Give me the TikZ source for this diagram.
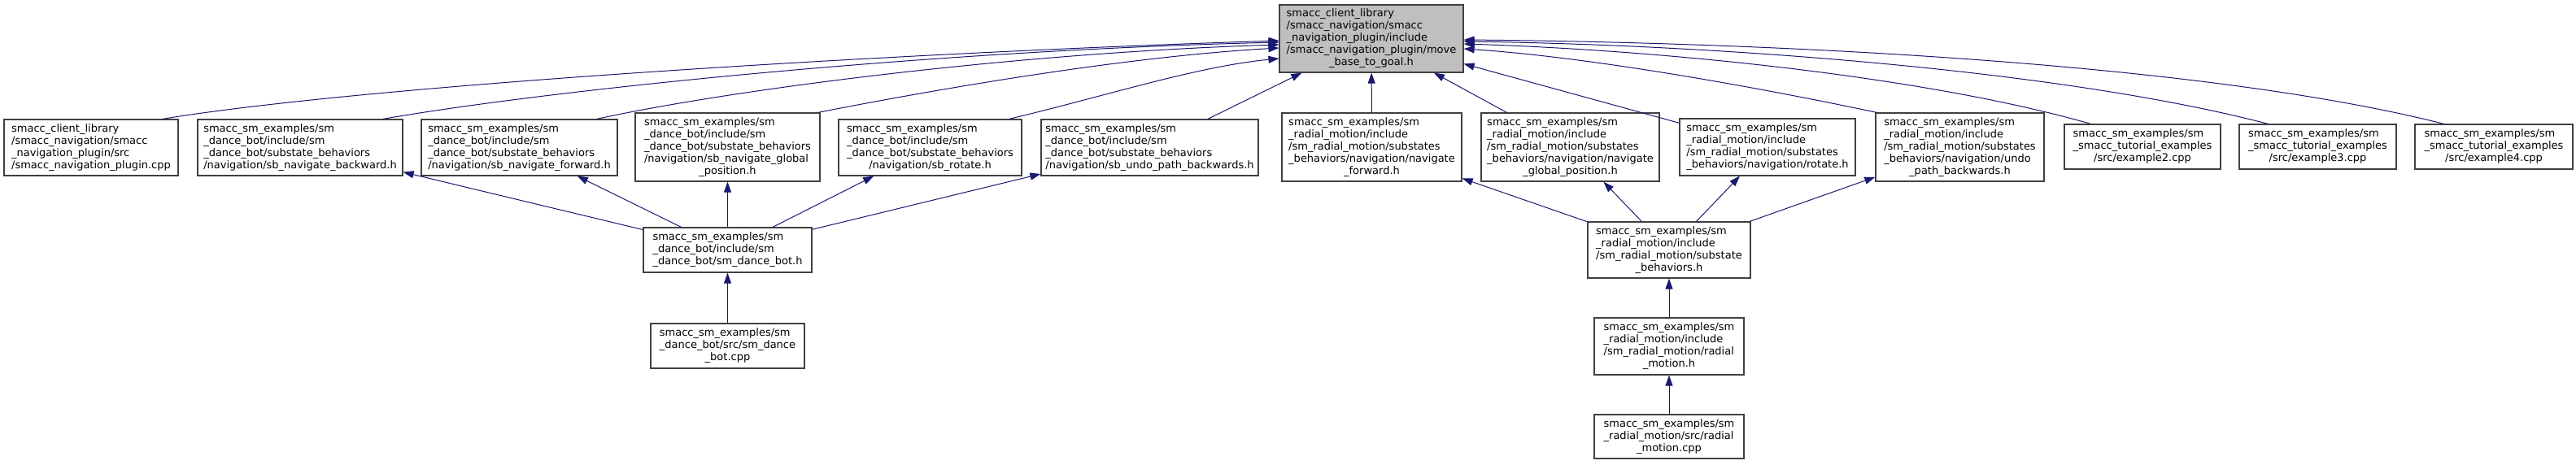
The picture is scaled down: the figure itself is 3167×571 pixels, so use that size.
\documentclass[tikz,border=0pt]{standalone}
\usepackage{fontspec}
\setmainfont{DejaVu Sans}
\usetikzlibrary{arrows.meta}
\definecolor{edgeblue}{RGB}{25,25,112}
\definecolor{boxgrey}{RGB}{64,64,64}
\definecolor{rootfill}{RGB}{191,191,191}
\newcommand{\flines}[2]{\begin{tabular}{@{}l@{}}#1\\\multicolumn{1}{@{}c@{}}{#2}\end{tabular}}
\begin{document}
\begin{tikzpicture}[x=1pt, y=-1pt,
        filebox/.style={draw=boxgrey, line width=1.2pt, fill=white, inner sep=0pt,
            font=\fontsize{13}{15}\selectfont},
        rootbox/.style={filebox, fill=rootfill},
        incl/.style={draw=edgeblue, line width=1pt, -{Triangle[length=13pt,width=9pt,fill=edgeblue]}}]
        \useasboundingbox (0,0) rectangle (3167,571);

        % Included header
        \node[rootbox, minimum width=226pt, minimum height=83pt] (top) at (1686,47.5)
            {\flines{smacc\_client\_library\\/smacc\_navigation/smacc\\\_navigation\_plugin/include\\/smacc\_navigation\_plugin/move}{\_base\_to\_goal.h}};

        % Files including it directly
        \node[filebox, minimum width=214pt, minimum height=69pt] (plugin) at (112,181.5)
            {\flines{smacc\_client\_library\\/smacc\_navigation/smacc\\\_navigation\_plugin/src}{/smacc\_navigation\_plugin.cpp}};
        \node[filebox, minimum width=252pt, minimum height=69pt] (sbback) at (369,181.5)
            {\flines{smacc\_sm\_examples/sm\\\_dance\_bot/include/sm\\\_dance\_bot/substate\_behaviors}{/navigation/sb\_navigate\_backward.h}};
        \node[filebox, minimum width=241pt, minimum height=69pt] (sbfwd) at (638.5,181.5)
            {\flines{smacc\_sm\_examples/sm\\\_dance\_bot/include/sm\\\_dance\_bot/substate\_behaviors}{/navigation/sb\_navigate\_forward.h}};
        \node[filebox, minimum width=227pt, minimum height=84pt] (sbglobal) at (894.5,181)
            {\flines{smacc\_sm\_examples/sm\\\_dance\_bot/include/sm\\\_dance\_bot/substate\_behaviors\\/navigation/sb\_navigate\_global}{\_position.h}};
        \node[filebox, minimum width=225pt, minimum height=69pt] (sbrot) at (1143.5,181.5)
            {\flines{smacc\_sm\_examples/sm\\\_dance\_bot/include/sm\\\_dance\_bot/substate\_behaviors}{/navigation/sb\_rotate.h}};
        \node[filebox, minimum width=267pt, minimum height=69pt] (sbundo) at (1413.5,181.5)
            {\flines{smacc\_sm\_examples/sm\\\_dance\_bot/include/sm\\\_dance\_bot/substate\_behaviors}{/navigation/sb\_undo\_path\_backwards.h}};
        \node[filebox, minimum width=221pt, minimum height=84pt] (rmfwd) at (1686.5,181)
            {\flines{smacc\_sm\_examples/sm\\\_radial\_motion/include\\/sm\_radial\_motion/substates\\\_behaviors/navigation/navigate}{\_forward.h}};
        \node[filebox, minimum width=219pt, minimum height=84pt] (rmglobal) at (1930.5,181)
            {\flines{smacc\_sm\_examples/sm\\\_radial\_motion/include\\/sm\_radial\_motion/substates\\\_behaviors/navigation/navigate}{\_global\_position.h}};
        \node[filebox, minimum width=216pt, minimum height=70pt] (rmrot) at (2173,181)
            {\flines{smacc\_sm\_examples/sm\\\_radial\_motion/include\\/sm\_radial\_motion/substates}{\_behaviors/navigation/rotate.h}};
        \node[filebox, minimum width=207pt, minimum height=84pt] (rmundo) at (2409.5,181)
            {\flines{smacc\_sm\_examples/sm\\\_radial\_motion/include\\/sm\_radial\_motion/substates\\\_behaviors/navigation/undo}{\_path\_backwards.h}};
        \node[filebox, minimum width=192pt, minimum height=55pt] (extwo) at (2634,180.5)
            {\flines{smacc\_sm\_examples/sm\\\_smacc\_tutorial\_examples}{/src/example2.cpp}};
        \node[filebox, minimum width=193pt, minimum height=55pt] (exthree) at (2849.5,180.5)
            {\flines{smacc\_sm\_examples/sm\\\_smacc\_tutorial\_examples}{/src/example3.cpp}};
        \node[filebox, minimum width=194pt, minimum height=55pt] (exfour) at (3066,180.5)
            {\flines{smacc\_sm\_examples/sm\\\_smacc\_tutorial\_examples}{/src/example4.cpp}};

        % Dance bot chain
        \node[filebox, minimum width=207pt, minimum height=55pt] (dbh) at (894.5,307.5)
            {\flines{smacc\_sm\_examples/sm\\\_dance\_bot/include/sm}{\_dance\_bot/sm\_dance\_bot.h}};
        \node[filebox, minimum width=189pt, minimum height=55pt] (dbcpp) at (894.5,425.5)
            {\flines{smacc\_sm\_examples/sm\\\_dance\_bot/src/sm\_dance}{\_bot.cpp}};

        % Radial motion chain
        \node[filebox, minimum width=200pt, minimum height=69pt] (rmsub) at (2052,307.5)
            {\flines{smacc\_sm\_examples/sm\\\_radial\_motion/include\\/sm\_radial\_motion/substate}{\_behaviors.h}};
        \node[filebox, minimum width=184pt, minimum height=70pt] (rmh) at (2052,426)
            {\flines{smacc\_sm\_examples/sm\\\_radial\_motion/include\\/sm\_radial\_motion/radial}{\_motion.h}};
        \node[filebox, minimum width=184pt, minimum height=54pt] (rmcpp) at (2052,537)
            {\flines{smacc\_sm\_examples/sm\\\_radial\_motion/src/radial}{\_motion.cpp}};

        % Edges into the header, left side
        \draw[incl] ([xshift=-20pt]plugin.north east) .. controls (450,105) and (1100,65) .. ([yshift=-2.5pt]top.west);
        \draw[incl] ([xshift=-25pt]sbback.north east) .. controls (680,110) and (1150,62) .. ([yshift=-4.5pt]top.west);
        \draw[incl] ([xshift=-26pt]sbfwd.north east) .. controls (900,110) and (1250,65) .. ([yshift=-7.5pt]top.west);
        \draw[incl] ([xshift=-3pt]sbglobal.north east) .. controls (1150,110) and (1380,70) .. ([yshift=-11.5pt]top.west);
        \draw[incl] ([xshift=-16pt]sbrot.north east) .. controls (1360,118) and (1470,82) .. ([yshift=-24.5pt]top.west);
        \draw[incl] (sbundo) -- (top);
        \draw[incl] (rmfwd) -- (top);
        \draw[incl] (rmglobal) -- (top);
        \draw[incl] (rmrot) -- (top);

        % Edges into the header, right side
        \draw[incl] ([xshift=2pt]rmundo.north west) .. controls (2150,105) and (1950,70) .. ([yshift=-12.5pt]top.east);
        \draw[incl] ([xshift=33pt]extwo.north west) .. controls (2370,95) and (2050,62) .. ([yshift=-6.5pt]top.east);
        \draw[incl] ([xshift=36pt]exthree.north west) .. controls (2530,85) and (2100,55) .. ([yshift=-3.5pt]top.east);
        \draw[incl] ([xshift=36pt]exfour.north west) .. controls (2700,75) and (2150,52) .. ([yshift=-1.5pt]top.east);

        % Dance bot includes
        \draw[incl] (dbh) -- (sbback);
        \draw[incl] (dbh) -- (sbfwd);
        \draw[incl] (dbh) -- (sbglobal);
        \draw[incl] (dbh) -- (sbrot);
        \draw[incl] (dbh) -- (sbundo);
        \draw[incl] (dbcpp) -- (dbh);

        % Radial motion includes
        \draw[incl] (rmsub) -- (rmfwd);
        \draw[incl] (rmsub) -- (rmglobal);
        \draw[incl] (rmsub) -- (rmrot);
        \draw[incl] (rmsub) -- (rmundo);
        \draw[incl] (rmh) -- (rmsub);
        \draw[incl] (rmcpp) -- (rmh);
\end{tikzpicture}
\end{document}
